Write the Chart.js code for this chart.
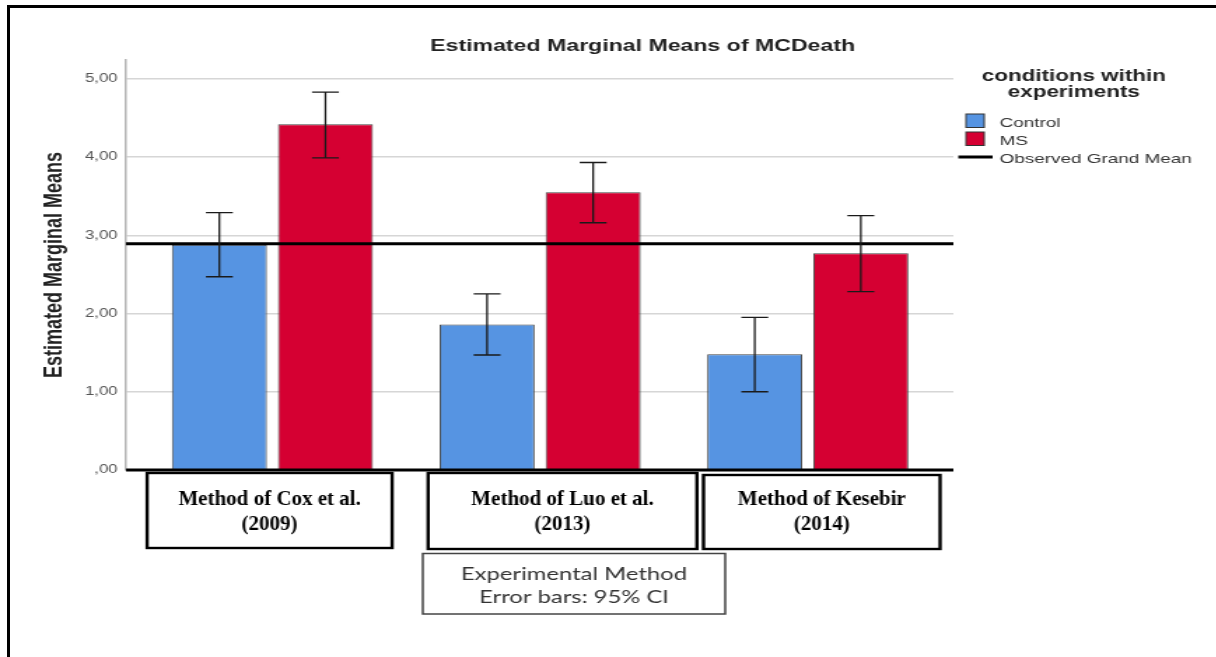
<!DOCTYPE html>
<html>
<head>
<meta charset="utf-8">
<title>Estimated Marginal Means of MCDeath</title>
<script src="https://cdn.jsdelivr.net/npm/chart.js@4.4.1/dist/chart.umd.min.js"></script>
<style>
  html, body { margin: 0; padding: 0; background: #fff; overflow: hidden; }
  /* the SPSS output in the source is stretched sideways, so the canvas is too */
  #wrap { position: absolute; left: 0; top: 0; width: 869px; height: 657px; transform: scaleX(1.4); transform-origin: 0 0; }
  #frame { position: absolute; left: 7px; top: 5px; width: 1300px; height: 700px; border-left: 3px solid #000; border-top: 3px solid #000; pointer-events: none; }
</style>
</head>
<body>
<div id="wrap"><canvas id="chart" width="869" height="657"></canvas></div>
<div id="frame"></div>
<script>
// Data
const categories = [['Method of Cox et al.', '(2009)'], ['Method of Luo et al.', '(2013)'], ['Method of Kesebir', '(2014)']];
const seriesNames = ['Control', 'MS'];
const controlMeans = [2.88, 1.86, 1.48];
const controlLower = [2.47, 1.47, 1.00];
const controlUpper = [3.29, 2.25, 1.95];
const msMeans = [4.42, 3.55, 2.77];
const msLower = [3.99, 3.16, 2.28];
const msUpper = [4.83, 3.93, 3.25];
const grandMean = 2.89;
const yTicks = [0, 1, 2, 3, 4, 5];
const yTickLabels = [',00', '1,00', '2,00', '3,00', '4,00', '5,00'];

const STRETCH = 1.4;
const SANS = "'Liberation Sans', Arial, sans-serif";
const colors = ['#5694E2', '#D50032'];

// boxes drawn round the category names (offset from group centre, width)
const labelBoxes = [
  { dx: -2, w: 175, top: 473, bottom: 548 },
  { dx: 16, w: 192, top: 473, bottom: 549 },
  { dx: 10, w: 169, top: 475, bottom: 549 }
];

function toPoints(values) {
  return values.map((v, i) => ({ x: i + 1, y: v }));
}

// text that should not get the sideways stretch
function plainText(ctx, str, cx, cy) {
  ctx.save();
  ctx.translate(cx, cy);
  ctx.scale(1 / STRETCH, 1);
  ctx.fillText(str, 0, 0);
  ctx.restore();
}

const decorations = {
  id: 'decorations',
  afterDatasetsDraw(chart) {
    const { ctx, chartArea: a, scales: { y } } = chart;
    ctx.save();
    ctx.strokeStyle = '#000';
    ctx.lineWidth = 3;
    [grandMean, 0].forEach(v => {
      const py = y.getPixelForValue(v);
      ctx.beginPath();
      ctx.moveTo(a.left, py);
      ctx.lineTo(a.right, py);
      ctx.stroke();
    });

    // 95% CI error bars
    const lows = [controlLower, msLower];
    const highs = [controlUpper, msUpper];
    ctx.strokeStyle = '#1a1a1a';
    ctx.lineWidth = 1.3;
    chart.data.datasets.forEach((ds, d) => {
      chart.getDatasetMeta(d).data.forEach((bar, i) => {
        const lo = y.getPixelForValue(lows[d][i]);
        const hi = y.getPixelForValue(highs[d][i]);
        const cap = 9.6;
        ctx.beginPath();
        ctx.moveTo(bar.x, lo); ctx.lineTo(bar.x, hi);
        ctx.moveTo(bar.x - cap, lo); ctx.lineTo(bar.x + cap, lo);
        ctx.moveTo(bar.x - cap, hi); ctx.lineTo(bar.x + cap, hi);
        ctx.stroke();
      });
    });
    ctx.restore();
  },
  afterDraw(chart) {
    const { ctx, scales: { x } } = chart;
    ctx.save();

    // chart title
    ctx.fillStyle = '#222';
    ctx.font = 'bold 16.5px ' + SANS;
    ctx.textAlign = 'center';
    ctx.textBaseline = 'alphabetic';
    ctx.fillText('Estimated Marginal Means of MCDeath', 459, 51);

    // legend
    ctx.font = 'bold 16px ' + SANS;
    ctx.fillText('conditions within', 767, 81);
    ctx.fillText('experiments', 767, 97);
    ctx.textAlign = 'left';
    ctx.font = '13.5px ' + SANS;
    const boxTops = [114, 132];
    seriesNames.forEach((name, i) => {
      ctx.fillStyle = colors[i];
      ctx.fillRect(690, boxTops[i], 13, 13.5);
      ctx.strokeStyle = '#333';
      ctx.lineWidth = 1;
      ctx.strokeRect(690, boxTops[i], 13, 13.5);
      ctx.fillStyle = '#333';
      ctx.fillText(name, 714, boxTops[i] + 12.5);
    });
    ctx.strokeStyle = '#000';
    ctx.lineWidth = 3;
    ctx.beginPath();
    ctx.moveTo(684.5, 157);
    ctx.lineTo(709, 157);
    ctx.stroke();
    ctx.fillText('Observed Grand Mean', 714, 163);

    // category label boxes
    ctx.textAlign = 'center';
    categories.forEach((lines, i) => {
      const b = labelBoxes[i];
      const cx = x.getPixelForValue(i + 1) + b.dx;
      ctx.fillStyle = '#fff';
      ctx.fillRect(cx - b.w / 2, b.top, b.w, b.bottom - b.top);
      ctx.strokeStyle = '#000';
      ctx.lineWidth = 2.4;
      ctx.strokeRect(cx - b.w / 2, b.top, b.w, b.bottom - b.top);
      ctx.fillStyle = '#000';
      ctx.font = "bold 21px 'Liberation Serif', 'Times New Roman', serif";
      plainText(ctx, lines[0], cx, 505);
      plainText(ctx, lines[1], cx, 530);
    });

    // axis caption box
    ctx.strokeStyle = '#444';
    ctx.lineWidth = 1.5;
    ctx.strokeRect(302, 553.5, 216, 60.5);
    ctx.fillStyle = '#333';
    ctx.font = '17px Lato, ' + SANS;
    ctx.fillText('Experimental Method', 410, 580);
    ctx.fillText('Error bars: 95% CI', 410, 603);
    ctx.restore();
  }
};

function createMeansChart() {
  const ctx = document.getElementById('chart').getContext('2d');
  new Chart(ctx, {
    type: 'bar',
    data: {
      datasets: [
        { label: seriesNames[0], data: toPoints(controlMeans), backgroundColor: colors[0], borderColor: '#444', borderWidth: 1 },
        { label: seriesNames[1], data: toPoints(msMeans), backgroundColor: colors[1], borderColor: '#444', borderWidth: 1 }
      ]
    },
    options: {
      responsive: false,
      animation: false,
      devicePixelRatio: 1,
      categoryPercentage: 0.7925,
      barPercentage: 0.896,
      layout: { padding: { left: 0, top: 60, right: 188, bottom: 187 } },
      plugins: { legend: { display: false }, tooltip: { enabled: false } },
      scales: {
        x: {
          type: 'linear',
          min: 0.453,
          max: 3.544,
          offset: false,
          display: false,
          afterBuildTicks: s => { s.ticks = categories.map((c, i) => ({ value: i + 1 })); }
        },
        y: {
          min: 0,
          max: 5.24,
          afterBuildTicks: s => { s.ticks = yTicks.map(v => ({ value: v })); },
          afterFit: s => { s.width = 90; },
          ticks: {
            padding: 6,
            color: '#555',
            font: { family: SANS, size: 12 },
            callback: (v, i) => yTickLabels[i]
          },
          grid: { color: '#d6d6d6', lineWidth: 1.5, drawTicks: false },
          border: { color: '#b4b4b4', width: 1.5 },
          title: {
            display: true,
            text: 'Estimated Marginal Means',
            color: '#222',
            font: { family: SANS, size: 18, weight: 'bold' },
            padding: { top: 28, bottom: 0 }
          }
        }
      }
    },
    plugins: [decorations]
  });
}

window.onload = function() {
  createMeansChart();
};
</script>
</body>
</html>
